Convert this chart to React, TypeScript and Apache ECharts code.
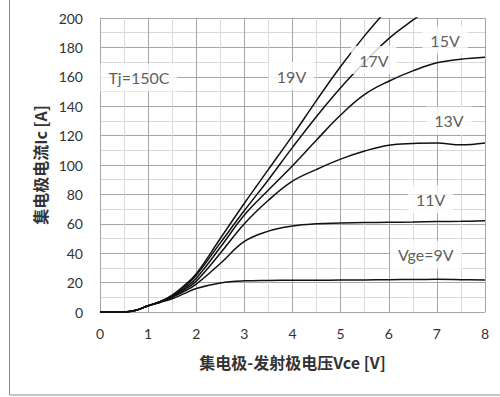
import React, { useEffect, useRef } from "react";
import * as echarts from "echarts";

const vce = [0, 0.5, 0.75, 1, 1.25, 1.5, 1.75, 2, 2.5, 3, 3.5, 4, 4.5, 5, 5.5, 6, 6.5, 7, 7.5, 8];
const ic9 = [0, 0, 1.2, 4.2, 6.5, 9, 12.5, 16, 19.8, 21.2, 21.5, 21.6, 21.6, 21.7, 21.8, 22, 22.1, 22.2, 22, 21.7];
const ic11 = [0, 0, 1.2, 4.2, 6.8, 10, 14, 19, 33, 48, 55, 58.5, 60, 60.5, 60.8, 61, 61.2, 61.5, 61.7, 62];
const ic13 = [0, 0, 1.2, 4.2, 7, 10.5, 15, 21, 40, 60, 76, 89, 97, 104, 109.5, 113.5, 114.7, 115, 113.7, 115];
const ic15 = [0, 0, 1.2, 4.2, 7, 11, 16, 23, 44, 66, 83, 99.5, 117, 134, 148, 157, 164, 169.5, 172, 173.3];
const ic17 = [0, 0, 1.2, 4.2, 7, 11.2, 17, 25, 47, 69, 90, 112, 133, 152.5, 170, 186, 198.5, 210];
const ic19 = [0, 0, 1.2, 4.2, 7, 11.5, 18, 26, 50, 74, 97, 120, 144, 167, 188, 207];

const curveNames = ["9V", "11V", "13V", "15V", "17V", "19V"];
const curveValues = [ic9, ic11, ic13, ic15, ic17, ic19];

const labelTexts = ["Tj=150C", "19V", "17V", "15V", "13V", "11V", "Vge=9V"];
const labelX = [0.81, 3.98, 5.69, 7.17, 7.25, 6.87, 6.77];
const labelY = [159.5, 160.5, 171.4, 185.0, 130.3, 76.7, 38.8];

const xTitle = "集电极-发射极电压Vce [V]";
const yTitle = "集电极电流Ic [A]";

export default function App() {
  const ref = useRef<HTMLDivElement>(null);
  useEffect(() => {
    if (!ref.current) return;
    const chart = echarts.init(ref.current, null, { renderer: "svg" });
    const lineSeries = curveNames.map((name, i) => ({
      name,
      type: "line",
      data: curveValues[i].map((v, j) => [vce[j], v]),
      showSymbol: false,
      symbol: "none",
      smooth: 0.4,
      clip: true,
      z: 2,
      lineStyle: { color: "#111", width: 1.5 },
    }));
    const labelSeries = {
      name: "labels",
      type: "scatter",
      data: labelTexts.map((t, i) => [labelX[i], labelY[i], t]),
      symbol: "rect",
      symbolSize: 1,
      itemStyle: { color: "rgba(0,0,0,0)" },
      z: 10,
      label: {
        show: true,
        position: "inside",
        formatter: (p: any) => p.data[2],
        backgroundColor: "#ffffff",
        padding: [6, 8],
        color: "#333333",
        fontSize: 16,
        fontFamily: "Lato",
      },
    };
    chart.setOption({
      animation: false,
      backgroundColor: "#ffffff",
      grid: { left: 100, top: 18, right: 15, bottom: 85, containLabel: false },
      graphic: [
        {
          type: "rect",
          shape: { x: 9.5, y: -10, width: 520, height: 405 },
          style: { fill: "none", stroke: "#8c8c8c", lineWidth: 1 },
          z: -1,
        },
      ],
      xAxis: {
        type: "value",
        min: 0,
        max: 8,
        interval: 1,
        name: xTitle,
        nameLocation: "middle",
        nameGap: 42,
        nameTextStyle: { fontSize: 16, fontWeight: "bold", color: "#333333", fontFamily: "Noto Sans CJK SC" },
        axisLine: { show: true, lineStyle: { color: "#a6a6a6" } },
        axisTick: { show: false },
        axisLabel: { fontSize: 14, color: "#333333", margin: 14, fontFamily: "Lato" },
        splitLine: { show: true, lineStyle: { color: "#a6a6a6", width: 1 } },
        minorTick: { show: false, splitNumber: 2 },
        minorSplitLine: { show: true, lineStyle: { color: "#d9d9d9", width: 1 } },
      },
      yAxis: {
        type: "value",
        min: 0,
        max: 200,
        interval: 20,
        name: yTitle,
        nameLocation: "middle",
        nameGap: 50,
        nameTextStyle: { fontSize: 16, fontWeight: "bold", color: "#333333", fontFamily: "Noto Sans CJK SC" },
        axisLine: { show: true, lineStyle: { color: "#a6a6a6" } },
        axisTick: { show: false },
        axisLabel: { fontSize: 14, color: "#333333", margin: 17, fontFamily: "Lato" },
        splitLine: { show: true, lineStyle: { color: "#a6a6a6", width: 1 } },
        minorTick: { show: false, splitNumber: 2 },
        minorSplitLine: { show: true, lineStyle: { color: "#d9d9d9", width: 1 } },
      },
      series: [...lineSeries, labelSeries],
    });
    return () => chart.dispose();
  }, []);
  return (
    <div
      ref={ref}
      style={{ position: "fixed", left: 0, top: 0, width: 500, height: 397 }}
    />
  );
}
